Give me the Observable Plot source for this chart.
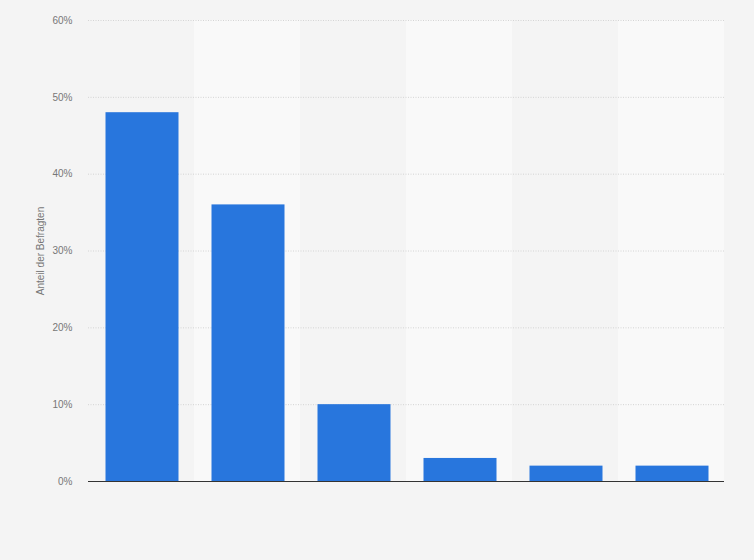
<!DOCTYPE html>
<html>
<head>
<meta charset="utf-8">
<script src="https://cdn.jsdelivr.net/npm/d3@7"></script>
<script src="https://cdn.jsdelivr.net/npm/@observablehq/plot@0.6"></script>
<style>
  html, body { margin: 0; padding: 0; background: #f4f4f4; }
  #chart svg { display: block; }
</style>
</head>
<body>
<div id="chart"></div>
<script>
const categories = ["1", "2", "3", "4", "5", "6"];
const values = [48, 36, 10, 3, 2, 2];
const yTicks = [0, 10, 20, 30, 40, 50, 60];
const yLabel = "Anteil der Befragten";

const data = categories.map((c, i) => ({category: c, value: values[i]}));
const bands = categories.filter((c, i) => i % 2 === 1).map(c => ({category: c}));

const chart = Plot.plot({
  width: 754,
  height: 560,
  marginLeft: 88,
  marginRight: 30,
  marginTop: 20,
  marginBottom: 79,
  style: {background: "#f4f4f4", fontFamily: "'Liberation Sans', Arial, sans-serif"},
  x: {domain: categories, padding: 0, axis: null},
  y: {domain: [0, 60], ticks: yTicks, label: null},
  marks: [
    Plot.barY(bands, {x: "category", y1: 0, y2: 60, fill: "#f9f9f9"}),
    Plot.gridY(yTicks.filter(t => t > 0), {stroke: "#d4d4d4", strokeOpacity: 1, strokeDasharray: "1,1.5"}),
    Plot.barY(data, {x: "category", y: "value", fill: "#2876dd", insetLeft: 17.5, insetRight: 15.5}),
    Plot.ruleY([0], {stroke: "#333", strokeWidth: 1}),
    Plot.axisY({ticks: yTicks, tickSize: 0, tickPadding: 16, tickFormat: d => d + "%", fontSize: 10, color: "#777", label: null}),
    Plot.text([yLabel], {frameAnchor: "left", dx: -48, rotate: -90, fontSize: 10, fill: "#777", textAnchor: "middle"})
  ]
});
document.getElementById("chart").appendChild(chart);
</script>
</body>
</html>
